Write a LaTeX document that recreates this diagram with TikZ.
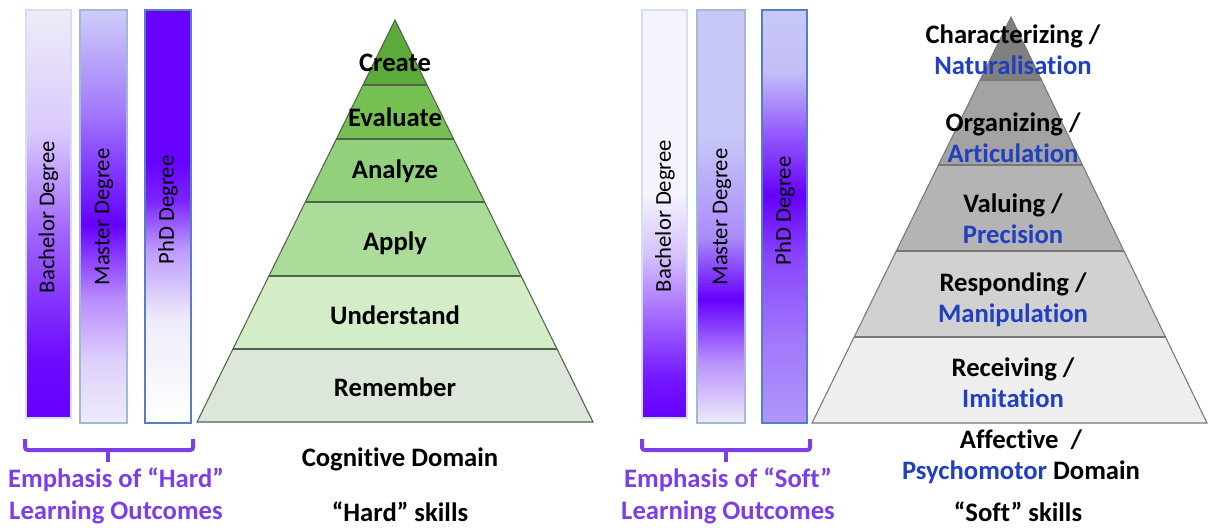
\documentclass[tikz,border=0pt]{standalone}
\usepackage{fontspec}
\setmainfont[Ligatures=NoCommon]{Carlito}
\definecolor{vdeep}{RGB}{102,0,255}
\definecolor{vlight}{RGB}{238,236,250}
\definecolor{vlav}{RGB}{200,200,248}
\definecolor{emphpurple}{RGB}{124,62,232}
\definecolor{psyblue}{RGB}{32,64,192}
\definecolor{lightline}{RGB}{212,224,240}
\definecolor{midline}{RGB}{160,186,214}
\definecolor{darkline}{RGB}{84,128,194}
\definecolor{create}{RGB}{91,170,58}
\definecolor{evaluate}{RGB}{118,192,83}
\definecolor{analyze}{RGB}{147,208,123}
\definecolor{apply}{RGB}{172,220,153}
\definecolor{understand}{RGB}{211,237,199}
\definecolor{remember}{RGB}{220,230,218}
\definecolor{greenline}{RGB}{80,100,75}
\definecolor{charact}{RGB}{128,128,128}
\definecolor{organiz}{RGB}{163,163,163}
\definecolor{valuing}{RGB}{180,180,180}
\definecolor{respond}{RGB}{209,209,209}
\definecolor{receive}{RGB}{238,238,238}
\definecolor{grayline}{RGB}{120,120,120}
% bar shadings, the path spans 25bp (bottom) to 75bp (top)
\pgfdeclareverticalshading{lbach}{100bp}{color(0bp)=(vdeep); color(25bp)=(vdeep); color(32.5bp)=(vdeep!95!vlight);
  color(47.5bp)=(vdeep!58!vlight); color(60bp)=(vdeep!15!vlight); color(75bp)=(vlight); color(100bp)=(vlight)}
\pgfdeclareverticalshading{lmast}{100bp}{color(0bp)=(vlight); color(25bp)=(vlight); color(32.5bp)=(vdeep!12!vlight);
  color(40bp)=(vdeep!40!vlight); color(49bp)=(vdeep); color(55bp)=(vdeep!75!vlav); color(62.5bp)=(vdeep!40!vlav);
  color(75bp)=(vlav!85!vlight); color(100bp)=(vlav!85!vlight)}
\pgfdeclareverticalshading{lphd}{100bp}{color(0bp)=(white); color(25bp)=(white); color(37.5bp)=(vlight);
  color(46bp)=(vdeep!35!vlight); color(52bp)=(vdeep!85!vlight); color(57bp)=(vdeep); color(75bp)=(vdeep); color(100bp)=(vdeep)}
\pgfdeclareverticalshading{rbach}{100bp}{color(0bp)=(vdeep); color(25bp)=(vdeep); color(30bp)=(vdeep!90!vlight);
  color(37.5bp)=(vdeep!55!vlight); color(45bp)=(vdeep!18!vlight); color(52.5bp)=(vlight!60!white); color(75bp)=(vlight!60!white);
  color(100bp)=(vlight!60!white)}
\pgfdeclareverticalshading{rmast}{100bp}{color(0bp)=(vlight); color(25bp)=(vlight); color(32.5bp)=(vdeep!40!vlight);
  color(40bp)=(vdeep); color(47.5bp)=(vdeep!30!vlav); color(60bp)=(vlav); color(75bp)=(vlav); color(100bp)=(vlav)}
\pgfdeclareverticalshading{rphd}{100bp}{color(0bp)=(vdeep!25!vlav); color(25bp)=(vdeep!25!vlav); color(35bp)=(vdeep!40!vlav);
  color(45bp)=(vdeep!65!vlav); color(52.5bp)=(vdeep); color(60bp)=(vdeep!55!vlav); color(67.5bp)=(vdeep!5!vlav);
  color(75bp)=(vlav); color(100bp)=(vlav)}

\begin{document}
\begin{tikzpicture}[x=0.75pt,y=-0.75pt,inner sep=0pt]
\tikzstyle{bold}=[font=\bfseries\fontsize{20}{23.5}\selectfont, align=center]
\tikzstyle{degree}=[rotate=90, font=\fontsize{17}{20}\selectfont]
\tikzstyle{bar}=[line width=1.5pt]
\tikzstyle{band}=[line width=0.8pt]
\tikzstyle{emph}=[bold, text=emphpurple]
\tikzstyle{brace}=[draw=emphpurple, line width=3pt, rounded corners=2pt]
\useasboundingbox (0,0) rectangle (1208,528);

% hard side: degree bars
\shade[bar, draw=lightline, shading=lbach] (26,10) rectangle (71,418);
\shade[bar, draw=midline, shading=lmast] (80,10) rectangle (127,423);
\shade[bar, draw=darkline, shading=lphd] (145,10) rectangle (191,423);
\node[degree] (lbachtxt) at (48.5,217) {Bachelor Degree};
\node[degree] (lmasttxt) at (104,217) {Master Degree};
\node[degree] (lphdtxt) at (168,210) {PhD Degree};
\draw[brace] (25,439) -- (25,450) -- (193,450) -- (193,439);
\draw[brace] (108,450) -- (108,462);
\node[emph] (lemph) at (116,496) {Emphasis of “Hard”\\Learning Outcomes};

% cognitive pyramid
\coordinate (lapex) at (395,20);
\coordinate (lbl) at (197,422);
\coordinate (lbr) at (593,422);
\begin{scope}
\clip (lapex) -- (lbl) -- (lbr) -- cycle;
\fill[create] (190,10) rectangle (600,85);
\fill[evaluate] (190,85) rectangle (600,139);
\fill[analyze] (190,139) rectangle (600,202);
\fill[apply] (190,202) rectangle (600,276);
\fill[understand] (190,276) rectangle (600,349);
\fill[remember] (190,349) rectangle (600,430);
\draw[band, greenline] (190,85) -- (600,85) (190,139) -- (600,139) (190,202) -- (600,202)
  (190,276) -- (600,276) (190,349) -- (600,349);
\end{scope}
\draw[band, greenline] (lapex) -- (lbl) -- (lbr) -- cycle;
\node[bold] (createtxt) at (395,63) {Create};
\node[bold] (evaltxt) at (395,117) {Evaluate};
\node[bold] (analtxt) at (395,171) {Analyze};
\node[bold] (applytxt) at (395,243) {Apply};
\node[bold] (undtxt) at (395,315) {Understand};
\node[bold] (remtxt) at (395,387) {Remember};
\node[bold] (cogn) at (400,459) {Cognitive Domain};
\node[bold] (hard) at (400,512) {“Hard” skills};

% soft side: degree bars
\shade[bar, draw=lightline, shading=rbach] (642,10) rectangle (687,418);
\shade[bar, draw=midline, shading=rmast] (697,10) rectangle (745,423);
\shade[bar, draw=darkline, shading=rphd] (762,10) rectangle (807,423);
\node[degree] (rbachtxt) at (665,216) {Bachelor Degree};
\node[degree] (rmasttxt) at (722,217) {Master Degree};
\node[degree] (rphdtxt) at (785,211) {PhD Degree};
\draw[brace] (642,439) -- (642,450) -- (810,450) -- (810,439);
\draw[brace] (726,450) -- (726,462);
\node[emph] (remph) at (728,496) {Emphasis of “Soft”\\Learning Outcomes};

% affective / psychomotor pyramid
\coordinate (rapex) at (1011,17);
\coordinate (rbl) at (812,423);
\coordinate (rbr) at (1207,423);
\begin{scope}
\clip (rapex) -- (rbl) -- (rbr) -- cycle;
\fill[charact] (805,10) rectangle (1208,80);
\fill[organiz] (805,80) rectangle (1208,165);
\fill[valuing] (805,165) rectangle (1208,251);
\fill[respond] (805,251) rectangle (1208,337);
\fill[receive] (805,337) rectangle (1208,430);
\draw[band, grayline] (805,80) -- (1208,80) (805,165) -- (1208,165) (805,251) -- (1208,251)
  (805,337) -- (1208,337);
\end{scope}
\draw[band, grayline] (rapex) -- (rbl) -- (rbr) -- cycle;
\node[bold] (chartxt) at (1013,50) {Characterizing /\\\textcolor{psyblue}{Naturalisation}};
\node[bold] (orgtxt) at (1013,138) {Organizing /\\\textcolor{psyblue}{Articulation}};
\node[bold] (valtxt) at (1013,219) {Valuing /\\\textcolor{psyblue}{Precision}};
\node[bold] (resptxt) at (1013,300) {Responding /\\\textcolor{psyblue}{Manipulation}};
\node[bold] (rectxt) at (1013,383) {Receiving /\\\textcolor{psyblue}{Imitation}};
\node[bold] (affect) at (1021,457) {Affective\ \ /\\\textcolor{psyblue}{Psychomotor} Domain};
\node[bold] (soft) at (1018,512) {“Soft” skills};
\end{tikzpicture}
\end{document}
